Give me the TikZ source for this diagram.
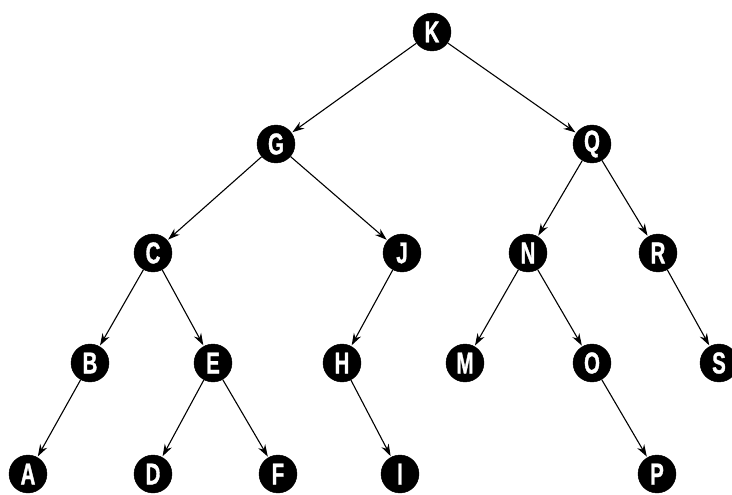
\documentclass[tikz,border=0pt]{standalone}
\usepackage{fontspec}
\newfontfamily\lf{Liberation Sans Bold}[FakeStretch=0.68,FakeBold=1.2]
\usetikzlibrary{arrows.meta}
\begin{document}
\begin{tikzpicture}[x=1pt,y=-1pt,
  vert/.style={circle,fill=black,draw=black,minimum size=38pt,inner sep=0pt,
    text=white,font=\lf\fontsize{30}{30}\selectfont},
  edge/.style={line width=1.1pt,-{Stealth[length=12pt,width=8pt]},shorten >=1pt}]
\useasboundingbox (0,0) rectangle (732,495);
\node[vert] (K) at (432,32) {K};
\node[vert] (G) at (276,144) {G};
\node[vert] (Q) at (592,144) {Q};
\node[vert] (C) at (153,253) {C};
\node[vert] (J) at (402,253) {J};
\node[vert] (N) at (528,253) {N};
\node[vert] (R) at (658,253) {R};
\node[vert] (B) at (90,363) {B};
\node[vert] (E) at (213,363) {E};
\node[vert] (H) at (342,363) {H};
\node[vert] (M) at (465,363) {M};
\node[vert] (O) at (592,363) {O};
\node[vert] (S) at (719,363) {S};
\node[vert] (A) at (28,474) {A};
\node[vert] (D) at (153,474) {D};
\node[vert] (F) at (278,474) {F};
\node[vert] (I) at (400,474) {I};
\node[vert] (P) at (657,474) {P};
\foreach \a/\b in {K/G,K/Q,G/C,G/J,Q/N,Q/R,C/B,C/E,J/H,N/M,N/O,R/S,B/A,E/D,E/F,H/I,O/P}
  \draw[edge] (\a) -- (\b);
\end{tikzpicture}
\end{document}
